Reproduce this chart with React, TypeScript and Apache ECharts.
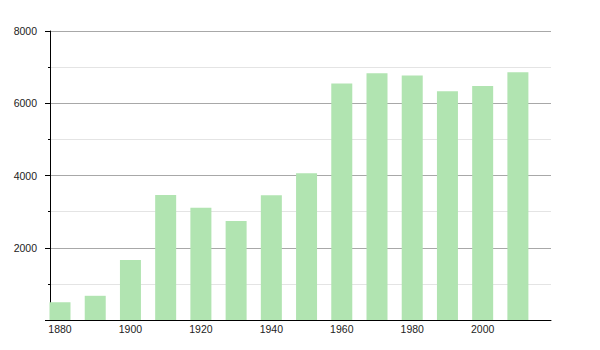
import React, { useEffect, useRef } from "react";
import * as echarts from "echarts";

const years = [1880, 1890, 1900, 1910, 1920, 1930, 1940, 1950, 1960, 1970, 1980, 1990, 2000, 2010];
const population = [490, 670, 1660, 3460, 3110, 2740, 3450, 4060, 6550, 6830, 6770, 6335, 6475, 6860];
const xTickLabels = [1880, 1900, 1920, 1940, 1960, 1980, 2000];

export default function App() {
  const ref = useRef<HTMLDivElement>(null);
  useEffect(() => {
    if (!ref.current) return;
    const chart = echarts.init(ref.current, undefined, { renderer: "svg" });
    chart.setOption({
      animation: false,
      backgroundColor: "#ffffff",
      grid: { left: 50, right: 49, top: 31, bottom: 30, containLabel: false },
      xAxis: {
        type: "value",
        min: 1877.16,
        max: 2019.4,
        axisLine: { show: true, onZero: false, lineStyle: { color: "#000", width: 1 } },
        axisTick: { show: false },
        splitLine: { show: false },
        axisLabel: {
          customValues: xTickLabels,
          color: "#222",
          fontSize: 10.5,
          fontFamily: "Liberation Sans, Arial, sans-serif",
          margin: 3,
          formatter: (v: number) => String(v),
        },
      },
      yAxis: {
        type: "value",
        min: 0,
        max: 8000,
        interval: 2000,
        axisLine: { show: true, lineStyle: { color: "#000", width: 1 } },
        axisTick: { show: true, length: 5, lineStyle: { color: "#000" } },
        minorTick: { show: true, splitNumber: 2, length: 2, lineStyle: { color: "#000" } },
        splitLine: { show: true, lineStyle: { color: "#a8a8a8", width: 1 } },
        minorSplitLine: { show: true, lineStyle: { color: "#e4e4e4", width: 1 } },
        axisLabel: {
          showMinLabel: false,
          color: "#222",
          fontSize: 10.5,
          fontFamily: "Liberation Sans, Arial, sans-serif",
          margin: 13,
          formatter: (v: number) => String(v),
        },
      },
      series: [
        {
          type: "bar",
          data: years.map((y, i) => [y, population[i]]),
          barWidth: 21,
          itemStyle: { color: "#b1e4b1" },
          z: 3,
        },
      ],
    });
    return () => chart.dispose();
  }, []);
  return (
    <div
      ref={ref}
      style={{ position: "fixed", left: 0, top: 0, width: 600, height: 350, background: "#fff" }}
    />
  );
}
